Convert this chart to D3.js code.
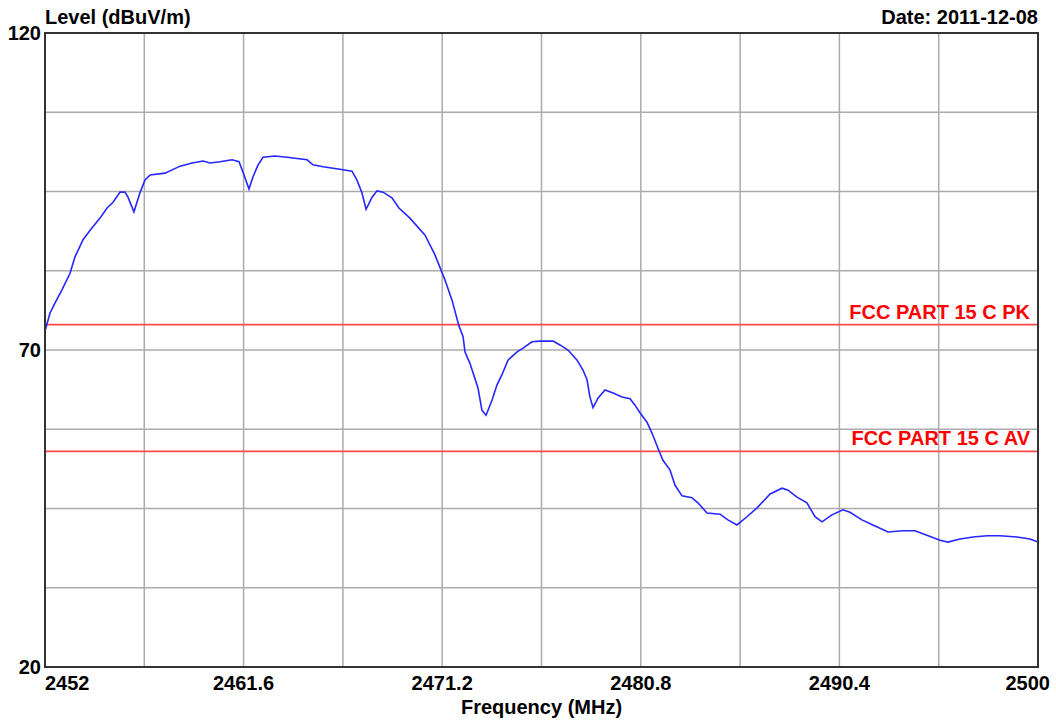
<!DOCTYPE html>
<meta charset="utf-8">
<html>
<head>
  <style>
    body { margin: 0; background: #fff; }
    text { font-family: "Liberation Sans", Arial, sans-serif; font-weight: bold; }
    .grid line { stroke: #ababab; stroke-width: 1.5px; }
    .frame { fill: none; stroke: #333; stroke-width: 2px; }
    .trace { fill: none; stroke: #2626ff; stroke-width: 1.6px; }
    .limit { stroke: #ff4a4a; stroke-width: 1.8px; }
    .limit-label { fill: #ff0000; font-size: 20px; text-anchor: end; }
  </style>
</head>
<body>
<svg width="1056" height="722"></svg>

<script src="https://d3js.org/d3.v7.min.js"></script>
<script>

// frequency (MHz) and level (dBuV/m)
const freq = [2452.00, 2452.24, 2452.48, 2452.82, 2453.21, 2453.45, 2453.84, 2454.18, 2454.66, 2455.00,
  2455.29, 2455.63, 2455.87, 2456.01, 2456.30, 2456.59, 2456.83, 2457.08, 2457.80, 2458.53,
  2459.11, 2459.64, 2459.98, 2460.46, 2461.04, 2461.38, 2461.62, 2461.86, 2462.05, 2462.30,
  2462.54, 2463.12, 2463.70, 2464.67, 2464.95, 2465.44, 2466.26, 2466.84, 2467.08, 2467.32,
  2467.52, 2467.81, 2468.05, 2468.34, 2468.77, 2469.11, 2469.64, 2470.37, 2470.85, 2471.34,
  2471.67, 2472.01, 2472.21, 2472.30, 2472.54, 2472.69, 2472.93, 2473.12, 2473.32, 2473.61,
  2473.85, 2474.09, 2474.38, 2474.82, 2475.11, 2475.54, 2475.93, 2476.56, 2476.89, 2477.28,
  2477.72, 2478.01, 2478.20, 2478.34, 2478.49, 2478.73, 2479.07, 2479.46, 2479.89, 2480.28,
  2480.52, 2480.76, 2481.10, 2481.34, 2481.63, 2481.87, 2482.21, 2482.45, 2482.79, 2483.27,
  2483.56, 2484.00, 2484.63, 2485.01, 2485.45, 2485.93, 2486.42, 2487.05, 2487.63, 2487.92,
  2488.35, 2488.83, 2489.22, 2489.56, 2490.04, 2490.57, 2490.91, 2491.49, 2492.02, 2492.75,
  2493.47, 2494.05, 2494.63, 2495.26, 2495.65, 2496.23, 2496.86, 2497.54, 2498.16, 2498.99,
  2499.61, 2500.00];
const level = [73.0, 75.8, 77.4, 79.5, 82.1, 84.7, 87.4, 88.9, 90.8, 92.4,
  93.3, 94.9, 94.9, 94.1, 91.8, 94.8, 96.8, 97.6, 97.9, 99.0,
  99.5, 99.8, 99.5, 99.7, 100.0, 99.7, 97.6, 95.4, 97.3, 99.2,
  100.4, 100.6, 100.4, 100.0, 99.2, 98.9, 98.5, 98.2, 96.8, 94.8,
  92.2, 94.1, 95.1, 94.9, 94.0, 92.4, 90.8, 88.1, 85.0, 81.0,
  77.9, 73.8, 72.1, 69.7, 67.9, 66.4, 64.0, 60.5, 59.7, 62.1,
  64.5, 66.1, 68.4, 69.7, 70.3, 71.3, 71.4, 71.4, 70.8, 70.0,
  68.4, 66.8, 65.3, 62.6, 60.9, 62.4, 63.7, 63.2, 62.6, 62.3,
  61.3, 60.1, 58.6, 56.9, 54.5, 52.6, 51.1, 48.7, 47.0, 46.7,
  45.9, 44.3, 44.1, 43.2, 42.4, 43.7, 45.1, 47.3, 48.2, 47.9,
  46.8, 45.9, 43.7, 42.9, 44.0, 44.8, 44.4, 43.2, 42.4, 41.3,
  41.5, 41.5, 40.8, 40.0, 39.7, 40.2, 40.5, 40.7, 40.7, 40.5,
  40.2, 39.7];

// limit lines
const limitNames = ["FCC PART 15 C PK", "FCC PART 15 C AV"];
const limitValues = [74, 54];

// grid and tick labels
const xGrid = [2452, 2456.8, 2461.6, 2466.4, 2471.2, 2476, 2480.8, 2485.6, 2490.4, 2495.2, 2500];
const xLabels = ["2452", "2461.6", "2471.2", "2480.8", "2490.4", "2500"];
const yGrid = [20, 32.5, 45, 57.5, 70, 82.5, 95, 107.5, 120];
const yLabels = [20, 70, 120];

const width = 1056;
const height = 722;
const margin = { top: 33, right: 18, bottom: 55, left: 45 };
const fontSize = "20px";

const svg = d3.select("svg");

const x = d3.scaleLinear().domain([2452, 2500]).range([margin.left, width - margin.right]);
const y = d3.scaleLinear().domain([20, 120]).range([height - margin.bottom, margin.top]);

// gridlines
const grid = svg.append("g").attr("class", "grid");
grid.selectAll(".vx")
  .data(xGrid.slice(1, -1))
  .join("line")
  .attr("x1", d => x(d)).attr("x2", d => x(d))
  .attr("y1", y(20)).attr("y2", y(120));
grid.selectAll(".hy")
  .data(yGrid.slice(1, -1))
  .join("line")
  .attr("class", "hy")
  .attr("x1", x(2452)).attr("x2", x(2500))
  .attr("y1", d => y(d)).attr("y2", d => y(d));

// limit lines
const limits = svg.append("g");
limits.selectAll("line")
  .data(limitValues)
  .join("line")
  .attr("class", "limit")
  .attr("x1", x(2452)).attr("x2", x(2500))
  .attr("y1", d => y(d)).attr("y2", d => y(d));
limits.selectAll("text")
  .data(limitValues)
  .join("text")
  .attr("class", "limit-label")
  .attr("x", x(2500) - 8)
  .attr("y", d => y(d) - 6)
  .text((d, i) => limitNames[i]);

// trace
const line = d3.line()
  .x((d, i) => x(freq[i]))
  .y(d => y(d));

svg.append("path")
  .attr("class", "trace")
  .attr("d", line(level));

// frame
svg.append("rect")
  .attr("class", "frame")
  .attr("x", x(2452)).attr("y", y(120))
  .attr("width", x(2500) - x(2452))
  .attr("height", y(20) - y(120));

// y labels
svg.selectAll(".ylab")
  .data(yLabels)
  .join("text")
  .attr("class", "ylab")
  .attr("x", margin.left - 4)
  .attr("y", d => y(d))
  .attr("dy", "0.36em")
  .attr("text-anchor", "end")
  .style("font-size", fontSize)
  .text(d => d);

// x labels
svg.selectAll(".xlab")
  .data(xLabels)
  .join("text")
  .attr("class", "xlab")
  .attr("x", (d, i) => i === 0 ? x(+d) : (i === xLabels.length - 1 ? width - 6 : x(+d)))
  .attr("y", height - margin.bottom + 23)
  .attr("text-anchor", (d, i) => i === 0 ? "start" : (i === xLabels.length - 1 ? "end" : "middle"))
  .style("font-size", fontSize)
  .text(d => d);

// titles
svg.append("text")
  .attr("x", margin.left)
  .attr("y", 24)
  .style("font-size", fontSize)
  .text("Level (dBuV/m)");

svg.append("text")
  .attr("x", x(2500))
  .attr("y", 24)
  .attr("text-anchor", "end")
  .style("font-size", fontSize)
  .text("Date: 2011-12-08");

svg.append("text")
  .attr("x", (x(2452) + x(2500)) / 2)
  .attr("y", height - 8)
  .attr("text-anchor", "middle")
  .style("font-size", fontSize)
  .text("Frequency (MHz)");

</script>
</body>
</html>
